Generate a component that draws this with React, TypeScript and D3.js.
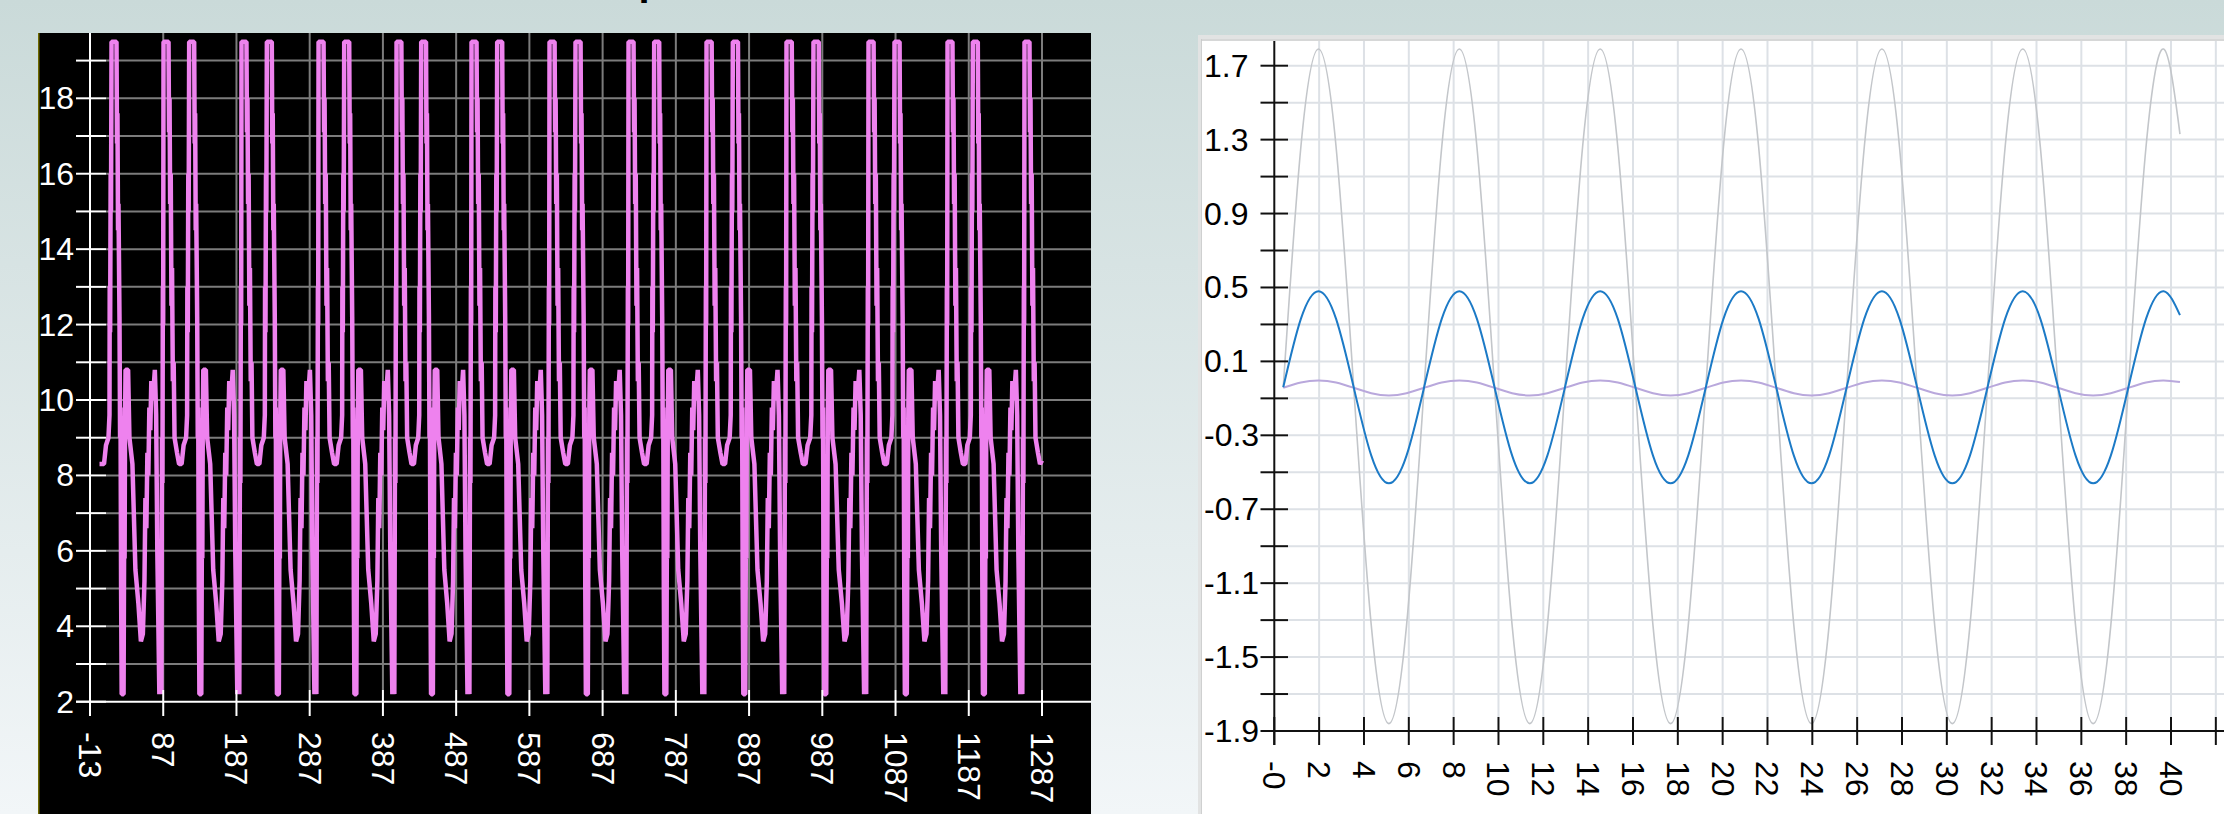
import React from "react";
import * as d3 from "d3";

const W = 2224;
const H = 814;
const FONT = '"Liberation Sans", Arial, Helvetica, sans-serif';

// ---------------- Left panel data ----------------
const leftXTicks = [-13, 87, 187, 287, 387, 487, 587, 687, 787, 887, 987, 1087, 1187, 1287];
const leftYTicks = [2, 3, 4, 5, 6, 7, 8, 9, 10, 11, 12, 13, 14, 15, 16, 17, 18, 19];
const leftYLabels = [2, 4, 6, 8, 10, 12, 14, 16, 18];

// x (data units) where each repeating cycle begins (first tall peak)
const pinkCycleStarts = [-18.4, 87.4, 193.9, 299.1, 405.6, 508.0, 614.5, 722.4, 828.9, 938.1, 1050.1, 1158.0, 1263.1];
// one cycle of the waveform: offset from cycle start, value
const pinkShapeDx = [
  0, 6.8, 7.5, 8.2, 9.0, 9.8, 10.8, 11.6, 12.7, 13.8, 15.0, 18.4, 21.2, 24.6, 27.3, 30.7,
  32.1, 32.4, 33.0, 33.7, 34.2, 34.9, 41.7, 42.4, 43.0, 43.8, 44.4, 45.8, 46.6, 47.2, 48.0,
  48.8, 51.4, 52.2, 52.8, 53.4, 54.1, 57.6, 59.4, 63.5, 67.6, 71.7, 75.1, 77.8, 80.0,
  81.3, 82.6, 84.0, 85.3, 86.7, 88.0, 89.4, 91.5, 94.2, 96.0, 97.6, 100.4, 101.8, 103.1,
  104.0, 104.6, 105.2, 105.6,
];
const pinkShapeY = [
  19.5, 19.5, 17.1, 18.0, 15.2, 16.0, 12.5, 13.5, 10.5, 11.0, 9.0, 8.6, 8.3, 8.3, 8.8, 9.0,
  9.6, 13.0, 11.8, 16.0, 15.0, 19.5, 19.5, 16.8, 17.6, 14.5, 15.2, 12.2, 9.0, 9.8, 5.0,
  2.2, 2.2, 6.5, 5.8, 9.5, 10.8, 10.8, 9.0, 8.3, 5.5, 4.6, 3.6, 3.8, 5.2,
  7.4, 6.6, 8.6, 8.0, 9.8, 9.2, 10.5, 10.0, 10.8, 9.6, 6.0, 2.2, 3.0, 2.2,
  9.0, 7.8, 13.0, 12.0,
];
const pinkCycleLength = 106.1;
const pinkStartPoint: [number, number] = [0, 8.3];
const pinkEndPoint: [number, number] = [1287, 8.4];

// ---------------- Right panel data ----------------
const rightXTicks = [0, 2, 4, 6, 8, 10, 12, 14, 16, 18, 20, 22, 24, 26, 28, 30, 32, 34, 36, 38, 40, 42];
const rightXLabels = ["-0", "2", "4", "6", "8", "10", "12", "14", "16", "18", "20", "22", "24", "26", "28", "30", "32", "34", "36", "38", "40", ""];
const rightYTicks = [-1.9, -1.7, -1.5, -1.3, -1.1, -0.9, -0.7, -0.5, -0.3, -0.1, 0.1, 0.3, 0.5, 0.7, 0.9, 1.1, 1.3, 1.5, 1.7];
const rightYLabels = ["-1.9", "-1.5", "-1.1", "-0.7", "-0.3", "0.1", "0.5", "0.9", "1.3", "1.7"];

const waveX = [
  0.4, 1.185, 1.971, 2.756, 3.542, 4.327, 5.112, 5.898, 6.683, 7.469, 8.254, 9.039, 9.825,
  10.61, 11.396, 12.181, 12.966, 13.752, 14.537, 15.323, 16.108, 16.893, 17.679, 18.464,
  19.25, 20.035, 20.82, 21.606, 22.391, 23.177, 23.962, 24.747, 25.533, 26.318, 27.104,
  27.889, 28.674, 29.46, 30.245, 31.031, 31.816, 32.601, 33.387, 34.172, 34.958, 35.743,
  36.528, 37.314, 38.099, 38.885, 39.67, 40.4,
];
const grayValues = [
  -0.04, 1.26, 1.79, 1.26, -0.04, -1.33, -1.86, -1.33,
  -0.04, 1.26, 1.79, 1.26, -0.04, -1.33, -1.86, -1.33,
  -0.04, 1.26, 1.79, 1.26, -0.04, -1.33, -1.86, -1.33,
  -0.04, 1.26, 1.79, 1.26, -0.04, -1.33, -1.86, -1.33,
  -0.04, 1.26, 1.79, 1.26, -0.04, -1.33, -1.86, -1.33,
  -0.04, 1.26, 1.79, 1.26, -0.04, -1.33, -1.86, -1.33,
  -0.04, 1.26, 1.79, 1.33,
];
const blueValues = [
  -0.04, 0.33, 0.48, 0.33, -0.04, -0.41, -0.56, -0.41,
  -0.04, 0.33, 0.48, 0.33, -0.04, -0.41, -0.56, -0.41,
  -0.04, 0.33, 0.48, 0.33, -0.04, -0.41, -0.56, -0.41,
  -0.04, 0.33, 0.48, 0.33, -0.04, -0.41, -0.56, -0.41,
  -0.04, 0.33, 0.48, 0.33, -0.04, -0.41, -0.56, -0.41,
  -0.04, 0.33, 0.48, 0.33, -0.04, -0.41, -0.56, -0.41,
  -0.04, 0.33, 0.48, 0.35,
];
const purpleValues = [
  -0.043, -0.014, -0.003, -0.014, -0.043, -0.072, -0.084, -0.072,
  -0.043, -0.014, -0.003, -0.014, -0.043, -0.072, -0.084, -0.072,
  -0.043, -0.014, -0.003, -0.014, -0.043, -0.072, -0.084, -0.072,
  -0.043, -0.014, -0.003, -0.014, -0.043, -0.072, -0.084, -0.072,
  -0.043, -0.014, -0.003, -0.014, -0.043, -0.072, -0.084, -0.072,
  -0.043, -0.014, -0.003, -0.014, -0.043, -0.072, -0.084, -0.072,
  -0.043, -0.014, -0.003, -0.012,
];

// ---------------- Build pink series from the read cycles ----------------
function buildPink(): [number, number][] {
  const pts: [number, number][] = [pinkStartPoint];
  pinkCycleStarts.forEach((a, i) => {
    const b = i + 1 < pinkCycleStarts.length ? pinkCycleStarts[i + 1] : a + pinkCycleLength;
    const s = (b - a) / pinkCycleLength;
    pinkShapeDx.forEach((dx, j) => {
      const x = a + dx * s;
      if (x > pinkStartPoint[0] && x < pinkEndPoint[0]) pts.push([x, pinkShapeY[j]]);
    });
  });
  pts.push(pinkEndPoint);
  return pts;
}

export default function App() {
  // Left panel geometry
  const L = { left: 38, top: 33, right: 1091 };
  const xL = d3.scaleLinear().domain([-13, 1287]).range([90, 1042]);
  const yL = d3.scaleLinear().domain([2, 18]).range([701.7, 98.3]);

  // Right panel geometry
  const R = { left: 1198, top: 35 };
  const xR = d3.scaleLinear().domain([0, 40]).range([1274.3, 2171]);
  const yR = d3.scaleLinear().domain([-1.9, 1.7]).range([731, 65.7]);
  const rTop = 41;

  const pinkLine = d3
    .line<[number, number]>()
    .x((d) => xL(d[0]))
    .y((d) => yL(d[1]));
  const pinkPath = pinkLine(buildPink()) || "";

  const waveLine = (vals: number[]) =>
    d3
      .line<number>()
      .x((_, i) => xR(waveX[i]))
      .y((d) => yR(d))
      .curve(d3.curveNatural)(vals) || "";

  const gridGray = "#7c7c7c";
  const rGrid = "#dde1e6";

  return (
    <svg
      width={W}
      height={H}
      viewBox={`0 0 ${W} ${H}`}
      style={{ position: "absolute", left: 0, top: 0, display: "block" }}
      fontFamily={FONT}
    >
      <defs>
        <linearGradient id="bg" x1="0" y1="0" x2="0" y2="1">
          <stop offset="0" stopColor="#cadad9" />
          <stop offset="1" stopColor="#f2f6f8" />
        </linearGradient>
      </defs>
      <rect x={0} y={0} width={W} height={H} fill="url(#bg)" />

      {/* title glyph cut off at the top edge, as in the reference */}
      <text x={638.5} y={-5} fontSize={40} fontWeight="bold" fill="#000">p</text>

      {/* ================= LEFT PANEL ================= */}
      <rect x={L.left} y={L.top} width={L.right - L.left} height={H - L.top} fill="#000" />
      <line x1={L.left + 0.75} x2={L.left + 0.75} y1={L.top} y2={H} stroke="#6f6a00" strokeWidth={1.5} />

      {/* horizontal grid */}
      {leftYTicks.filter((v) => v !== 2).map((v) => (
        <line key={`lhg${v}`} x1={106} x2={L.right} y1={yL(v)} y2={yL(v)} stroke={gridGray} strokeWidth={2} />
      ))}
      {/* vertical grid */}
      {leftXTicks.filter((v) => v !== -13).map((v) => (
        <line key={`lvg${v}`} x1={xL(v)} x2={xL(v)} y1={L.top} y2={690} stroke={gridGray} strokeWidth={2} />
      ))}

      {/* pink series */}
      <path d={pinkPath} fill="none" stroke="#ee82ee" strokeWidth={4.5} strokeLinejoin="bevel" />

      {/* axes */}
      <line x1={xL(-13)} x2={xL(-13)} y1={L.top} y2={716} stroke="#fff" strokeWidth={2} />
      <line x1={76} x2={L.right} y1={yL(2)} y2={yL(2)} stroke="#fff" strokeWidth={2} />
      {leftYTicks.map((v) => (
        <line key={`lyt${v}`} x1={76} x2={106} y1={yL(v)} y2={yL(v)} stroke="#fff" strokeWidth={2} />
      ))}
      {leftXTicks.map((v) => (
        <line key={`lxt${v}`} x1={xL(v)} x2={xL(v)} y1={690} y2={716} stroke="#fff" strokeWidth={2} />
      ))}
      {leftYLabels.map((v) => (
        <text key={`lyl${v}`} x={74} y={yL(v)} fill="#fff" fontSize={32} textAnchor="end" dominantBaseline="central">
          {v}
        </text>
      ))}
      {leftXTicks.map((v) => (
        <text
          key={`lxl${v}`}
          transform={`translate(${xL(v)},732) rotate(90)`}
          fill="#fff"
          fontSize={32}
          textAnchor="start"
          dominantBaseline="central"
        >
          {v}
        </text>
      ))}

      {/* ================= RIGHT PANEL ================= */}
      <rect x={R.left} y={R.top} width={W - R.left + 10} height={H - R.top + 10} fill="#e2e3e3" />
      <rect x={R.left + 3} y={R.top + 4} width={W - R.left} height={H} fill="#ffffff" />
      <line x1={R.left + 3.5} x2={R.left + 3.5} y1={R.top + 4} y2={H} stroke="#cfd0d0" strokeWidth={1} />
      <line x1={R.left + 3} x2={W} y1={R.top + 5} y2={R.top + 5} stroke="#c9caca" strokeWidth={1.5} />

      {/* grid */}
      {rightYTicks.map((v) => (
        <line key={`rhg${v}`} x1={1288} x2={W} y1={yR(v)} y2={yR(v)} stroke={rGrid} strokeWidth={2} />
      ))}
      {rightXTicks.filter((v) => v !== 0).map((v) => (
        <line key={`rvg${v}`} x1={xR(v)} x2={xR(v)} y1={rTop} y2={717} stroke={rGrid} strokeWidth={2} />
      ))}

      {/* series */}
      <path d={waveLine(grayValues)} fill="none" stroke="#c3c6ca" strokeWidth={1.6} />
      <path d={waveLine(purpleValues)} fill="none" stroke="#b9a8dc" strokeWidth={2} />
      <path d={waveLine(blueValues)} fill="none" stroke="#1c7ac6" strokeWidth={2} />

      {/* axes */}
      <line x1={xR(0)} x2={xR(0)} y1={rTop} y2={745} stroke="#111" strokeWidth={2} />
      <line x1={xR(0)} x2={W} y1={yR(-1.9)} y2={yR(-1.9)} stroke="#111" strokeWidth={2} />
      {rightYTicks.map((v) => (
        <line key={`ryt${v}`} x1={1260.5} x2={1288} y1={yR(v)} y2={yR(v)} stroke="#111" strokeWidth={2} />
      ))}
      {rightXTicks.map((v) => (
        <line key={`rxt${v}`} x1={xR(v)} x2={xR(v)} y1={717} y2={745} stroke="#111" strokeWidth={2} />
      ))}
      {rightYLabels.map((s) => (
        <text key={`ryl${s}`} x={1204} y={yR(parseFloat(s))} fill="#000" fontSize={32} textAnchor="start" dominantBaseline="central">
          {s}
        </text>
      ))}
      {rightXTicks.map((v, i) =>
        rightXLabels[i] ? (
          <text
            key={`rxl${v}`}
            transform={`translate(${xR(v)},761) rotate(90)`}
            fill="#000"
            fontSize={32}
            textAnchor="start"
            dominantBaseline="central"
          >
            {rightXLabels[i]}
          </text>
        ) : null
      )}
    </svg>
  );
}
